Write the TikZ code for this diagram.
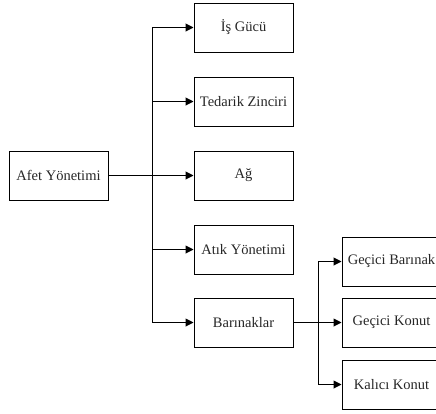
\documentclass[tikz,border=0pt]{standalone}
\usepackage{fontspec}
\setmainfont{Liberation Serif}
\usetikzlibrary{arrows.meta}

\tikzset{
  box/.style={draw, line width=1pt, minimum width=99pt, minimum height=49pt,
    inner sep=0pt, text=black!85, font=\fontsize{14.5}{16}\selectfont},
  link/.style={-{Triangle[length=8pt,width=8pt]}, line width=1pt}
}

\begin{document}
\begin{tikzpicture}[x=1pt, y=-1pt]
  \useasboundingbox (0, 0) rectangle (436, 413);

  \node[box] (afet) at (58.5, 175.5) {Afet Yönetimi};

  \node[box] (isgucu) at (243.5, 27.5) {İş Gücü};
  \node[box] (tedarik) at (243.5, 101.5) {Tedarik Zinciri};
  \node[box] (ag) at (243.5, 175.5) {Ağ};
  \node[box] (atik) at (243.5, 249.5) {Atık Yönetimi};
  \node[box] (barinak) at (243.5, 322.5) {Barınaklar};

  \node[box] (gbarinak) at (391.5, 261.5) {Geçici Barınak};
  \node[box] (gkonut) at (391.5, 322.5) {Geçici Konut};
  \node[box] (kkonut) at (391.5, 384.5) {Kalıcı Konut};

  % first level
  \foreach \n in {isgucu, tedarik, ag, atik, barinak}
    \draw[link] (afet.east) -- ([xshift=44pt]afet.east) |- (\n.west);

  % second level
  \foreach \n in {gbarinak, gkonut, kkonut}
    \draw[link] (barinak.east) -- ([xshift=25pt]barinak.east) |- (\n.west);
\end{tikzpicture}
\end{document}
